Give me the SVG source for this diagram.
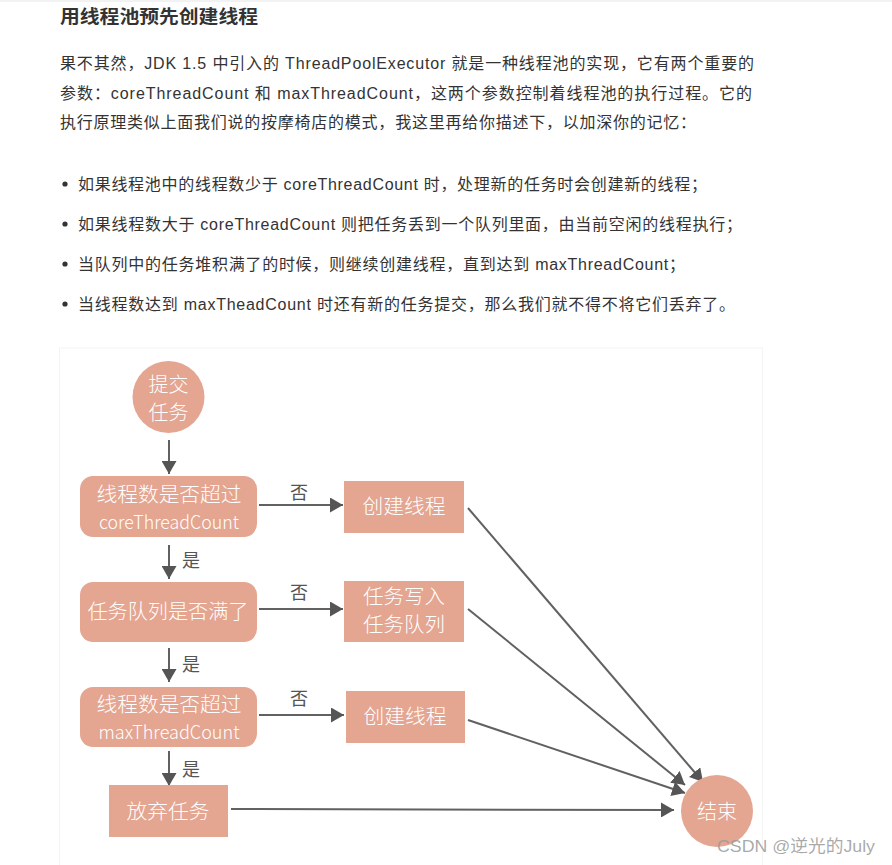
<svg xmlns="http://www.w3.org/2000/svg" width="892" height="865" viewBox="0 0 892 865">
<defs>
<style>
.body{font-family:"Liberation Sans","Noto Sans CJK SC",sans-serif;font-size:16px;fill:#333}
.title{font-family:"Liberation Sans","Noto Sans CJK SC",sans-serif;font-size:18px;font-weight:bold;fill:#333}
.node{fill:#e4a591}
.nt{font-family:"Noto Sans CJK SC","Noto Sans",sans-serif;font-size:20px;fill:#fff;text-anchor:middle;font-weight:300}
.lt{font-family:"Noto Sans CJK SC","Noto Sans",sans-serif;font-size:19px;fill:#fff;text-anchor:middle;font-weight:300}
.lbl{font-family:"Noto Sans CJK SC","Noto Sans",sans-serif;font-size:18px;fill:#555;text-anchor:middle}
.edge{stroke:#616161;stroke-width:2;fill:none;marker-end:url(#ah)}
</style>
<marker id="ah" viewBox="0 0 13 15" refX="13" refY="7.5" markerWidth="13" markerHeight="15" markerUnits="userSpaceOnUse" orient="auto">
<path d="M0,0 L13,7.5 L0,15 z" fill="#555"/>
</marker>
</defs>
<rect width="892" height="865" fill="#fff"/>
<rect x="0" y="0" width="892" height="2" fill="#f2f2f2"/>
<text class="title" x="60" y="23" textLength="198" lengthAdjust="spacingAndGlyphs">用线程池预先创建线程</text>
<text class="body" x="60" y="69" textLength="694" lengthAdjust="spacing">果不其然，JDK 1.5 中引入的 ThreadPoolExecutor 就是一种线程池的实现，它有两个重要的</text>
<text class="body" x="60" y="99" textLength="692" lengthAdjust="spacing">参数：coreThreadCount 和 maxThreadCount，这两个参数控制着线程池的执行过程。它的</text>
<text class="body" x="60" y="128" textLength="636" lengthAdjust="spacing">执行原理类似上面我们说的按摩椅店的模式，我这里再给你描述下，以加深你的记忆：</text>
<g fill="#333">
<circle cx="65" cy="184" r="2.6"/>
<circle cx="65" cy="224" r="2.6"/>
<circle cx="65" cy="264" r="2.6"/>
<circle cx="65" cy="304" r="2.6"/>
</g>
<text class="body" x="78" y="190" textLength="629" lengthAdjust="spacing">如果线程池中的线程数少于 coreThreadCount 时，处理新的任务时会创建新的线程；</text>
<text class="body" x="78" y="230" textLength="664" lengthAdjust="spacing">如果线程数大于 coreThreadCount 则把任务丢到一个队列里面，由当前空闲的线程执行；</text>
<text class="body" x="78" y="270" textLength="607" lengthAdjust="spacing">当队列中的任务堆积满了的时候，则继续创建线程，直到达到 maxThreadCount；</text>
<text class="body" x="78" y="310" textLength="657" lengthAdjust="spacing">当线程数达到 maxTheadCount 时还有新的任务提交，那么我们就不得不将它们丢弃了。</text>
<g id="panel">
<rect x="59.5" y="348" width="703" height="520" fill="#fff" stroke="#f4f4f4" stroke-width="1"/>
</g>
<g id="connectors">
<line class="edge" x1="169" y1="440" x2="169" y2="474"/>
<line class="edge" x1="259" y1="505" x2="343" y2="505"/>
<line class="edge" x1="169" y1="545" x2="169" y2="579"/>
<line class="edge" x1="259" y1="609" x2="343" y2="609"/>
<line class="edge" x1="169" y1="648" x2="169" y2="682"/>
<line class="edge" x1="259" y1="715" x2="344" y2="715"/>
<line class="edge" x1="169" y1="751" x2="169" y2="786"/>
<line class="edge" x1="231" y1="809" x2="674" y2="810"/>
<line class="edge" x1="468" y1="508" x2="703" y2="782"/>
<line class="edge" x1="468" y1="609" x2="685" y2="785"/>
<line class="edge" x1="468" y1="720" x2="685" y2="793"/>
<text class="lbl" x="299" y="499">否</text>
<text class="lbl" x="299" y="599">否</text>
<text class="lbl" x="299" y="705">否</text>
<text class="lbl" x="191" y="567">是</text>
<text class="lbl" x="191" y="671">是</text>
<text class="lbl" x="191" y="776">是</text>
</g>
<g id="start">
<circle class="node" cx="168.5" cy="397" r="36"/>
<text class="nt" x="168.5" y="392">提交</text>
<text class="nt" x="168.5" y="420">任务</text>
</g>
<g id="check-core">
<rect class="node" x="80" y="476" width="177" height="61" rx="13"/>
<text class="nt" x="169" y="502" textLength="145" lengthAdjust="spacingAndGlyphs">线程数是否超过</text>
<text class="lt" x="169" y="529" textLength="140" lengthAdjust="spacingAndGlyphs">coreThreadCount</text>
</g>
<g id="create-1">
<rect class="node" x="344" y="481" width="120" height="52"/>
<text class="nt" x="404" y="514" textLength="83" lengthAdjust="spacingAndGlyphs">创建线程</text>
</g>
<g id="check-queue">
<rect class="node" x="80" y="582" width="177" height="60" rx="13"/>
<text class="nt" x="168" y="619" textLength="161" lengthAdjust="spacingAndGlyphs">任务队列是否满了</text>
</g>
<g id="enqueue">
<rect class="node" x="344" y="581" width="120" height="61"/>
<text class="nt" x="404" y="604" textLength="82" lengthAdjust="spacingAndGlyphs">任务写入</text>
<text class="nt" x="404" y="632" textLength="82" lengthAdjust="spacingAndGlyphs">任务队列</text>
</g>
<g id="check-max">
<rect class="node" x="80" y="687" width="177" height="60" rx="13"/>
<text class="nt" x="169" y="712" textLength="145" lengthAdjust="spacingAndGlyphs">线程数是否超过</text>
<text class="lt" x="169" y="739" textLength="141" lengthAdjust="spacingAndGlyphs">maxThreadCount</text>
</g>
<g id="create-2">
<rect class="node" x="346" y="691" width="119" height="52"/>
<text class="nt" x="405" y="724" textLength="83" lengthAdjust="spacingAndGlyphs">创建线程</text>
</g>
<g id="discard">
<rect class="node" x="109" y="785" width="119" height="52"/>
<text class="nt" x="168" y="819" textLength="83" lengthAdjust="spacingAndGlyphs">放弃任务</text>
</g>
<g id="end">
<circle class="node" cx="717" cy="811" r="36"/>
<text class="nt" x="717" y="819" textLength="40" lengthAdjust="spacingAndGlyphs">结束</text>
</g>
<text x="717" y="852" textLength="158" lengthAdjust="spacingAndGlyphs" font-family="Liberation Sans,Noto Sans CJK SC,sans-serif" font-size="17" fill="#9a9a9a" fill-opacity="0.85">CSDN @逆光的July</text>
</svg>
